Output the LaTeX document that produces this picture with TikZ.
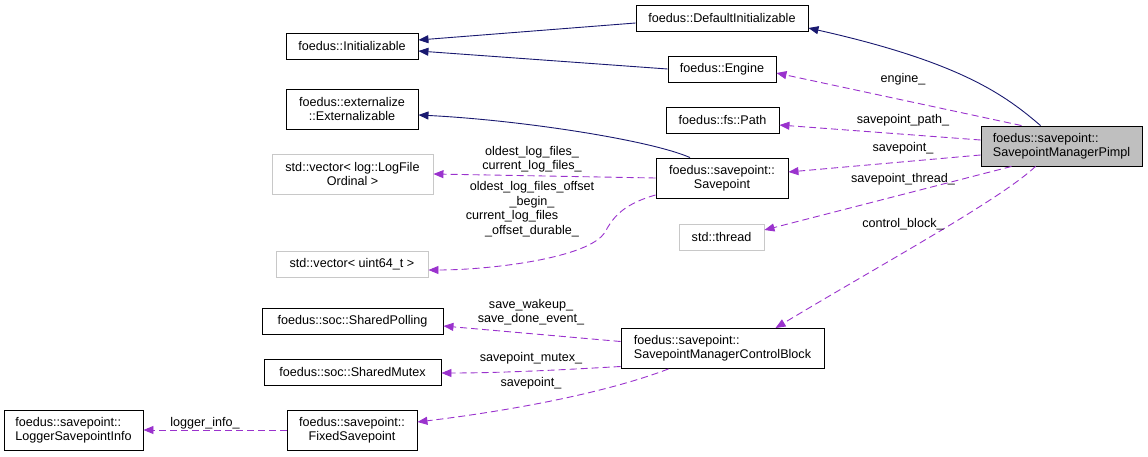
\documentclass[tikz,border=0pt]{standalone}
\usepackage{fontspec}
\setmainfont{Liberation Sans}
\usetikzlibrary{arrows.meta,positioning,calc}

\definecolor{edgenavy}{RGB}{25,25,112}
\definecolor{edgepurple}{RGB}{154,50,205}
\definecolor{boxgray}{RGB}{191,191,191}
\definecolor{extgray}{RGB}{200,200,200}

\begin{document}
\begin{tikzpicture}[
    x=1pt, y=-1pt,
    cls/.style={draw=black, line width=0.9pt, fill=white, align=center,
                font=\fontsize{12.6}{14}\selectfont, minimum height=26pt,
                inner sep=2pt},
    tall/.style={minimum height=40pt},
    ext/.style={cls, draw=extgray},
    focus/.style={cls, tall, fill=boxgray, align=left},
    inherit/.style={draw=edgenavy, line width=0.9pt,
                    -{Triangle[length=10pt,width=8pt]}},
    member/.style={draw=edgepurple, line width=0.9pt, dash pattern=on 7pt off 4pt,
                   -{Triangle[length=10pt,width=8pt]}},
    lbl/.style={font=\fontsize{12.6}{14.5}\selectfont, align=center, inner sep=0pt},
]
\useasboundingbox (0,0) rectangle (1148,457);

% === Classes ===
\node[cls, minimum width=172pt] (defi)   at (722,18)    {foedus::DefaultInitializable};
\node[cls, minimum width=132pt] (init)   at (352,46)    {foedus::Initializable};
\node[cls, minimum width=108pt] (engine) at (722,69)    {foedus::Engine};
\node[cls, minimum width=113pt] (path)   at (722.5,120) {foedus::fs::Path};
\node[cls, tall, minimum width=132pt] (extern) at (352,109)
  {foedus::externalize\\::Externalizable};
\node[ext, tall, minimum width=161pt] (vlog) at (352.5,174)
  {std::vector< log::LogFile\\Ordinal >};
\node[cls, tall, minimum width=132pt] (sp) at (722,178)
  {foedus::savepoint::\\Savepoint};
\node[ext, minimum width=152pt] (vu64)   at (352,264)   {std::vector< uint64\_t >};
\node[ext, minimum width=85pt]  (thread) at (721.5,237) {std::thread};
\node[focus, minimum width=161pt] (pimpl) at (1061.5,146)
  {foedus::savepoint::\\SavepointManagerPimpl};
\node[cls, minimum width=181pt] (poll)   at (352.5,321) {foedus::soc::SharedPolling};
\node[cls, minimum width=177pt] (mutex)  at (352.5,372) {foedus::soc::SharedMutex};
\node[cls, tall, align=left, minimum width=203pt] (cb) at (722.5,348.5)
  {foedus::savepoint::\\SavepointManagerControlBlock};
\node[cls, tall, minimum width=130pt] (fixed) at (352,430)
  {foedus::savepoint::\\FixedSavepoint};
\node[cls, tall, align=left, minimum width=139pt] (logger) at (73.5,430)
  {foedus::savepoint::\\LoggerSavepointInfo};

% === Inheritance ===
\draw[inherit] ([yshift=-5pt]defi.west) -- ([yshift=6pt]init.east);
\draw[inherit] (engine.west) -- ([yshift=-5pt]init.east);
\draw[inherit] ([xshift=-21pt]pimpl.north)
  .. controls (1005,95) and (960,62) .. ([yshift=-10pt]defi.east);
\draw[inherit] ([xshift=-32pt]sp.north)
  .. controls (650,140) and (520,120) .. ([yshift=-6pt]extern.east);

% === Members of SavepointManagerPimpl ===
\draw[member] ([xshift=-40pt]pimpl.north) -- ([yshift=-4pt]engine.east);
\draw[member] ([yshift=6pt]pimpl.west) -- ([yshift=-5pt]path.east);
\draw[member] ([yshift=-9pt]pimpl.west) -- ([yshift=6pt]sp.east);
\draw[member] ([xshift=-50pt]pimpl.south) -- ([yshift=7pt]thread.east);
\draw[member] ([xshift=-26pt]pimpl.south)
  .. controls (1000,200) and (880,265) .. ([xshift=53pt]cb.north);

\node[lbl] (lengine) at (903,79)  {engine\_};
\node[lbl] (lpath)   at (903,120) {savepoint\_path\_};
\node[lbl] (lsp)     at (903,148) {savepoint\_};
\node[lbl] (lthread) at (903,179) {savepoint\_thread\_};
\node[lbl] (lcb)     at (903,224) {control\_block\_};

% === Members of Savepoint ===
\draw[member] (sp.west) -- (vlog.east);
\draw[member] ([yshift=-17pt]sp.west)
  .. controls (620,205) and (612,220) .. (605,232)
  .. controls (590,258) and (490,270) .. ([yshift=-6pt]vu64.east);

\node[lbl] (lvlog) at (532,159) {oldest\_log\_files\_\\current\_log\_files\_};
\node[lbl] (lvu64) at (532,209)
  {oldest\_log\_files\_offset\\\_begin\_\\current\_log\_files\rule{40pt}{0pt}\\\_offset\_durable\_};

% === Members of SavepointManagerControlBlock ===
\draw[member] ([yshift=7pt]cb.west) -- ([yshift=-5pt]poll.east);
\draw[member] ([yshift=-18pt]cb.west)
  .. controls (560,370) and (500,373) .. ([yshift=-1pt]mutex.east);
\draw[member] ([xshift=-54pt]cb.south)
  .. controls (600,395) and (500,412) .. ([yshift=8pt]fixed.east);
\draw[member] (fixed.west) -- (logger.east);

\node[lbl] (lpoll)   at (531,312) {save\_wakeup\_\\save\_done\_event\_};
\node[lbl] (lmutex)  at (531,358) {savepoint\_mutex\_};
\node[lbl] (lfixed)  at (531,383) {savepoint\_};
\node[lbl] (llogger) at (205,423) {logger\_info\_};

\end{tikzpicture}
\end{document}
